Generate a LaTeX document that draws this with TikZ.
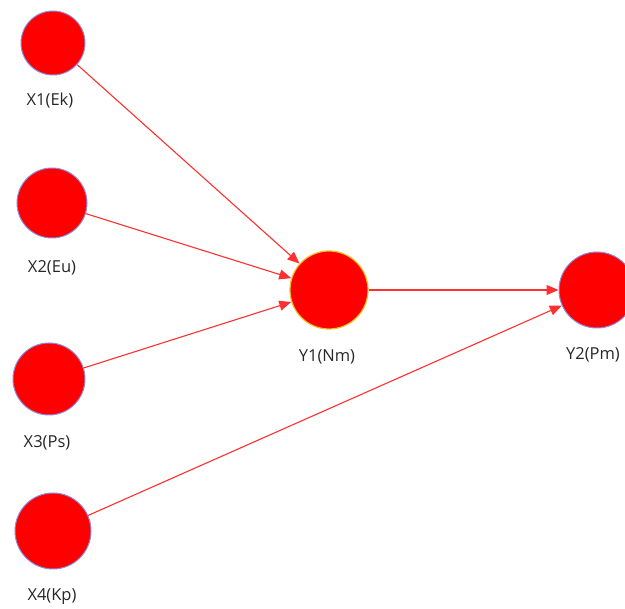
\documentclass[tikz,border=0pt]{standalone}
\usepackage{fontspec}
\setmainfont{Open Sans}
\usetikzlibrary{arrows.meta}
\definecolor{xborder}{HTML}{8C8CE0}
\definecolor{yborder}{HTML}{E8C020}
\definecolor{linkred}{HTML}{FF3030}
\tikzset{
  latent/.style={circle, fill=red, draw=xborder, line width=1pt, inner sep=0pt},
  endo/.style={circle, fill=red, draw=yborder, line width=1.2pt, inner sep=0pt},
  lbl/.style={font=\fontsize{16.5}{18}\selectfont, text=black!85, inner sep=0pt},
  link/.style={draw=linkred, line width=1.1pt, -{Triangle[length=12pt,width=10pt]}}
}
\begin{document}
\begin{tikzpicture}[x=1pt,y=-1pt]
\useasboundingbox (0,0) rectangle (625,609);
\node[latent, minimum size=64pt] (x1) at (53,43) {};
\node[latent, minimum size=70pt] (x2) at (52,203) {};
\node[latent, minimum size=72pt] (x3) at (49,379) {};
\node[latent, minimum size=76pt] (x4) at (53,531) {};
\node[endo, minimum size=78pt] (y1) at (329,290) {};
\node[latent, minimum size=76pt] (y2) at (597,290) {};
\node[lbl] (lx1) at (50,101) {X1(Ek)};
\node[lbl] (lx2) at (52,268) {X2(Eu)};
\node[lbl] (lx3) at (47,443) {X3(Ps)};
\node[lbl] (lx4) at (52,597) {X4(Kp)};
\node[lbl] (ly1) at (327,357) {Y1(Nm)};
\node[lbl] (ly2) at (593,355) {Y2(Pm)};
\draw[link] (x1) -- (y1);
\draw[link] (x2) -- (y1);
\draw[link] (x3) -- (y1);
\draw[link] (y1) -- (y2);
\draw[link] (x4) -- (y2);
\end{tikzpicture}
\end{document}
